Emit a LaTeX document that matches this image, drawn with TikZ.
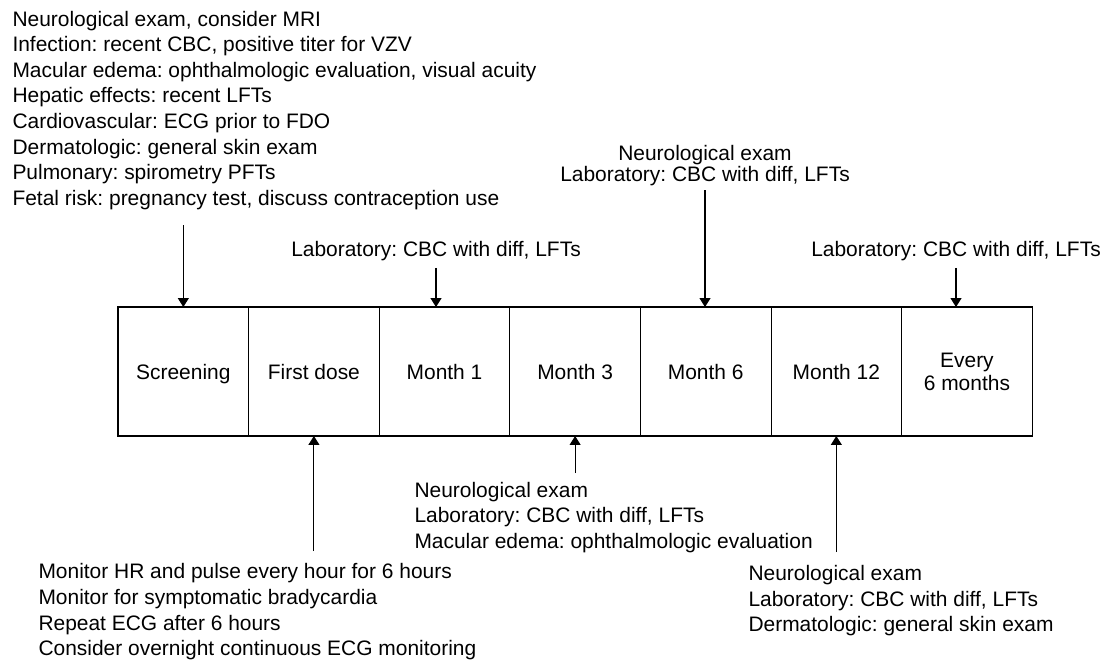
\documentclass[tikz,border=0pt]{standalone}
\usepackage{fontspec}
\setmainfont{Liberation Sans}
\frenchspacing
\usetikzlibrary{positioning,arrows.meta}
\tikzset{every picture/.style={line width=0.75pt}}
\tikzset{
  stage/.style={rectangle, draw, minimum width=3.265cm, minimum height=3.225cm, inner sep=0pt, outer sep=0pt, align=center, text depth=0pt, font=\fontsize{14.9pt}{16.5pt}\selectfont},
  note/.style={inner sep=0pt, font=\fontsize{14.9pt}{18.2pt}\selectfont}
}

\begin{document}
\begin{tikzpicture}[>={Triangle[length=0.22cm, width=0.27cm]}]
      \useasboundingbox (0,0) rectangle (27.625,-16.5);
      \node[stage] (scr) at (4.583,-9.2875) {Screening};
      \node[stage, right=0pt of scr]   (fdose) {First dose};
      \node[stage, right=0pt of fdose] (m1)    {Month 1};
      \node[stage, right=0pt of m1]    (m3)    {Month 3};
      \node[stage, right=0pt of m3]    (m6)    {Month 6};
      \node[stage, right=0pt of m6]    (m12)   {Month 12};
      \node[stage, right=0pt of m12]   (every) {Every\\6 months};
      \node[note, align=left, anchor=north west] (prenote) at (0.3,-0.26)
        {Neurological exam, consider MRI\\
         Infection: recent CBC, positive titer for VZV\\
         Macular edema: ophthalmologic evaluation, visual acuity\\
         Hepatic effects: recent LFTs\\
         Cardiovascular: ECG prior to FDO\\
         Dermatologic: general skin exam\\
         Pulmonary: spirometry PFTs\\
         Fetal risk: pregnancy test, discuss contraception use};
      \node[note, anchor=north] (m1note) at (10.9,-6.03) {Laboratory: CBC with diff, LFTs};
      \node[note, align=center, anchor=north, font=\fontsize{14.9pt}{15.3pt}\selectfont] (m6note) at (17.625,-3.61)
        {Neurological exam\\Laboratory: CBC with diff, LFTs};
      \node[note, anchor=north] (evnote) at (23.9,-6.03) {Laboratory: CBC with diff, LFTs};
      \node[note, align=left, anchor=north west] (fdnote) at (0.95,-14.08)
        {Monitor HR and pulse every hour for 6 hours\\
         Monitor for symptomatic bradycardia\\
         Repeat ECG after 6 hours\\
         Consider overnight continuous ECG monitoring};
      \node[note, align=left, anchor=north west] (m3note) at (10.35,-12.04)
        {Neurological exam\\
         Laboratory: CBC with diff, LFTs\\
         Macular edema: ophthalmologic evaluation};
      \node[note, align=left, anchor=north west] (m12note) at (18.7,-14.12)
        {Neurological exam\\
         Laboratory: CBC with diff, LFTs\\
         Dermatologic: general skin exam};
      \draw[->, shorten <=0.375cm] (scr.north |- prenote.south) -- (scr.north);
      \draw[->, shorten <=0.15cm] (m1note.south) -- (m1note.south |- m1.north);
      \draw[->, shorten <=0.1cm] (m6note.south) -- (m6note.south |- m6.north);
      \draw[->, shorten <=0.15cm] (evnote.south) -- (evnote.south |- every.north);
      \draw[->, shorten <=0.3cm] (fdose.south |- fdnote.north) -- (fdose.south);
      \draw[->, shorten <=0.21cm] (m3.south |- m3note.north) -- (m3.south);
      \draw[->, shorten <=0.32cm] (m12.south |- m12note.north) -- (m12.south);
    \end{tikzpicture}
\end{document}
